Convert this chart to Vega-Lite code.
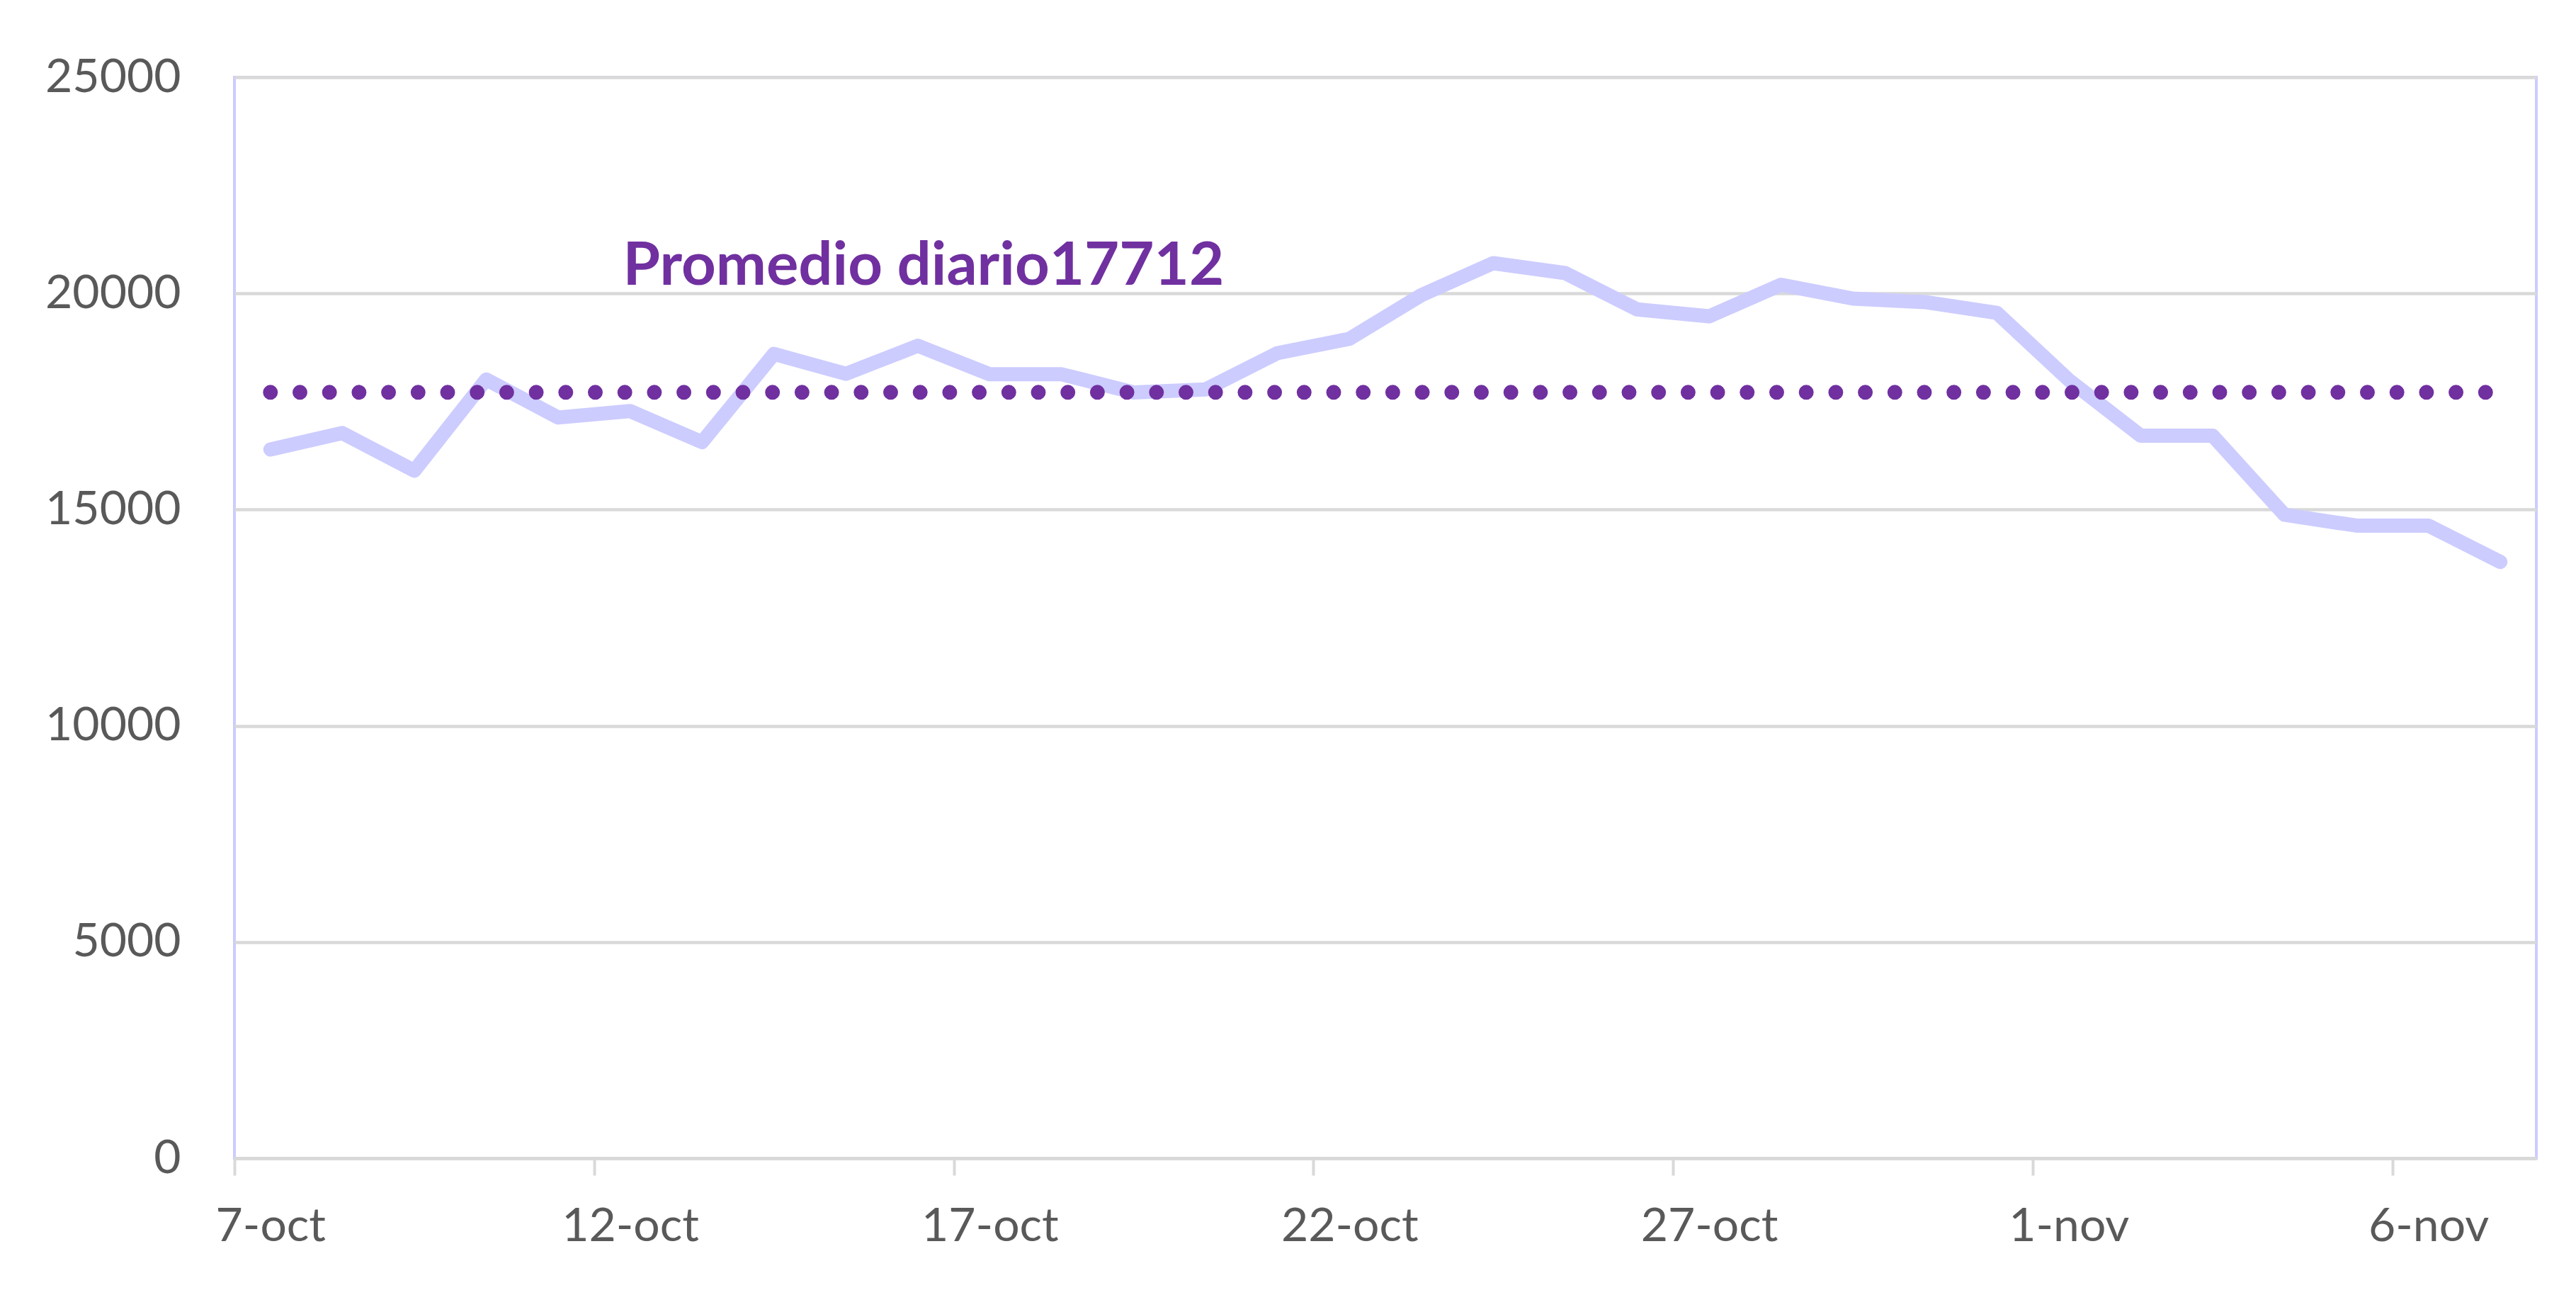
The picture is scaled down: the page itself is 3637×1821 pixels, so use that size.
{
  "$schema": "https://vega.github.io/schema/vega-lite/v6.json",
  "width": 3250,
  "height": 1526,
  "autosize": {"type": "none"},
  "padding": {"left": 331, "top": 109, "right": 56, "bottom": 186},
  "background": "white",
  "config": {"view": {"stroke": "#CCCCFF", "strokeWidth": 4}, "font": "Lato"},
  "data": {"values": [
    {"fecha": "7-oct", "valor": 16390, "promedio": 17712},
    {"fecha": "8-oct", "valor": 16770, "promedio": 17712},
    {"fecha": "9-oct", "valor": 15900, "promedio": 17712},
    {"fecha": "10-oct", "valor": 18010, "promedio": 17712},
    {"fecha": "11-oct", "valor": 17130, "promedio": 17712},
    {"fecha": "12-oct", "valor": 17280, "promedio": 17712},
    {"fecha": "13-oct", "valor": 16560, "promedio": 17712},
    {"fecha": "14-oct", "valor": 18600, "promedio": 17712},
    {"fecha": "15-oct", "valor": 18140, "promedio": 17712},
    {"fecha": "16-oct", "valor": 18790, "promedio": 17712},
    {"fecha": "17-oct", "valor": 18130, "promedio": 17712},
    {"fecha": "18-oct", "valor": 18130, "promedio": 17712},
    {"fecha": "19-oct", "valor": 17710, "promedio": 17712},
    {"fecha": "20-oct", "valor": 17780, "promedio": 17712},
    {"fecha": "21-oct", "valor": 18620, "promedio": 17712},
    {"fecha": "22-oct", "valor": 18950, "promedio": 17712},
    {"fecha": "23-oct", "valor": 19960, "promedio": 17712},
    {"fecha": "24-oct", "valor": 20700, "promedio": 17712},
    {"fecha": "25-oct", "valor": 20470, "promedio": 17712},
    {"fecha": "26-oct", "valor": 19630, "promedio": 17712},
    {"fecha": "27-oct", "valor": 19470, "promedio": 17712},
    {"fecha": "28-oct", "valor": 20200, "promedio": 17712},
    {"fecha": "29-oct", "valor": 19880, "promedio": 17712},
    {"fecha": "30-oct", "valor": 19800, "promedio": 17712},
    {"fecha": "31-oct", "valor": 19550, "promedio": 17712},
    {"fecha": "1-nov", "valor": 18000, "promedio": 17712},
    {"fecha": "2-nov", "valor": 16710, "promedio": 17712},
    {"fecha": "3-nov", "valor": 16710, "promedio": 17712},
    {"fecha": "4-nov", "valor": 14880, "promedio": 17712},
    {"fecha": "5-nov", "valor": 14630, "promedio": 17712},
    {"fecha": "6-nov", "valor": 14630, "promedio": 17712},
    {"fecha": "7-nov", "valor": 13790, "promedio": 17712}
  ]},
  "layer": [
    {
      "mark": {"type": "line", "color": "#CCCCFF", "strokeWidth": 20, "strokeCap": "round", "strokeJoin": "round"},
      "encoding": {
        "x": {
          "field": "fecha", "type": "nominal", "sort": null,
          "scale": {"type": "point", "padding": 0.5},
          "axis": {
            "values": ["7-oct", "12-oct", "17-oct", "22-oct", "27-oct", "1-nov", "6-nov"],
            "title": null, "grid": false,
            "domainColor": "#D9D9D9", "domainWidth": 4.5,
            "tickColor": "#D9D9D9", "tickWidth": 4, "tickSize": 24,
            "tickOffset": -50.78, "labelOffset": 50.78,
            "labelAngle": 0, "labelPadding": 40, "labelFontSize": 66, "labelLimit": 0,
            "labelColor": "#595959", "labelFont": "Lato"
          }
        },
        "y": {
          "field": "valor", "type": "quantitative",
          "scale": {"domain": [0, 25000], "nice": false},
          "axis": {
            "values": [0, 5000, 10000, 15000, 20000, 25000],
            "title": null, "grid": true, "gridColor": "#D9D9D9", "gridWidth": 4.5,
            "domain": false, "ticks": false, "format": "d", "labelLimit": 0,
            "labelPadding": 76, "labelFontSize": 66, "labelColor": "#595959", "labelFont": "Lato"
          }
        }
      }
    },
    {
      "mark": {"type": "line", "color": "#7030A0", "strokeWidth": 21, "strokeCap": "round", "strokeDash": [0, 41.7]},
      "encoding": {
        "x": {"field": "fecha", "type": "nominal", "sort": null},
        "y": {"field": "promedio", "type": "quantitative"}
      }
    },
    {
      "data": {"values": [{"fecha": "16-oct", "valor": 20200, "etiqueta": "Promedio diario17712"}]},
      "mark": {"type": "text", "font": "Lato", "fontWeight": "bold", "fontSize": 85, "color": "#7030A0", "align": "center", "baseline": "alphabetic", "dx": 8},
      "encoding": {
        "x": {"field": "fecha", "type": "nominal", "sort": null},
        "y": {"field": "valor", "type": "quantitative"},
        "text": {"field": "etiqueta"}
      }
    }
  ]
}
